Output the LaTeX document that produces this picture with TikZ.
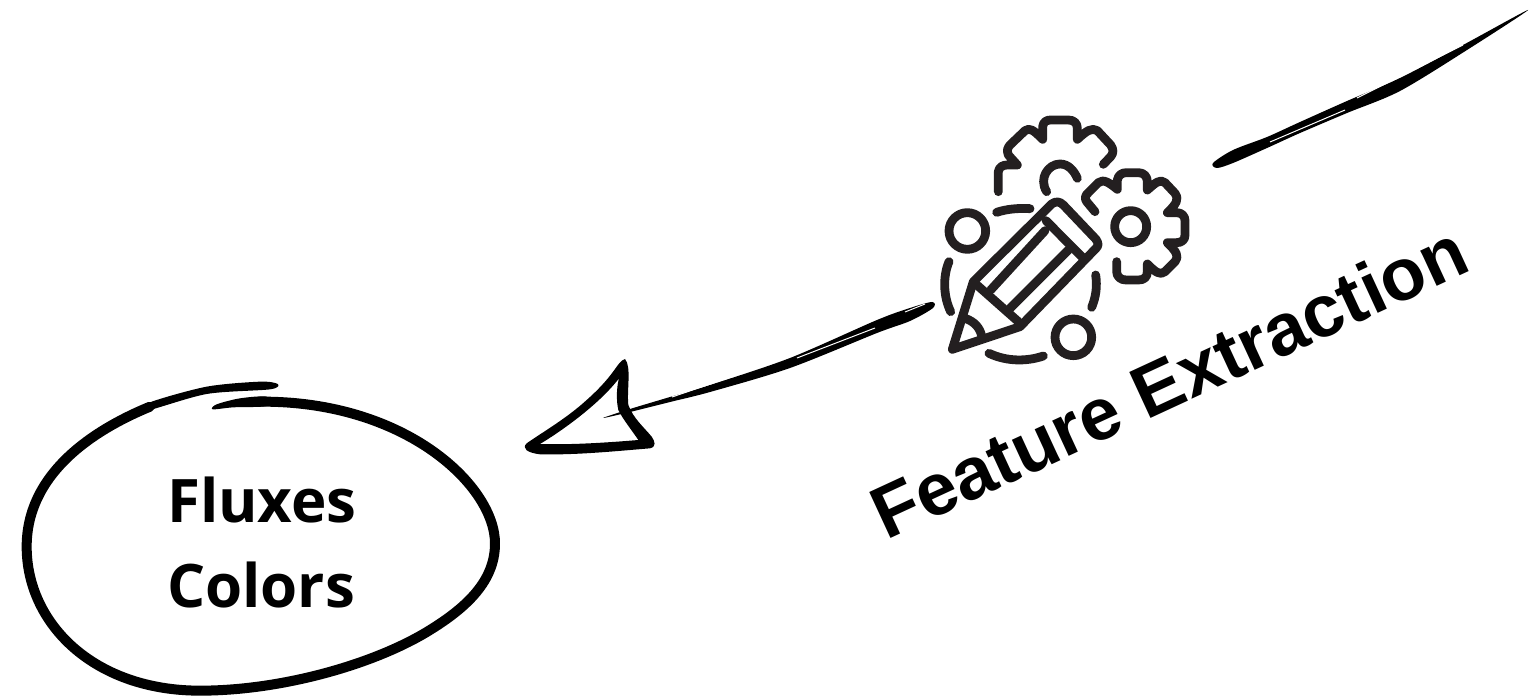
\documentclass[tikz,border=0pt]{standalone}
\usepackage{fontspec}
\setmainfont{Open Sans}
\newfontfamily\labelfont{Liberation Sans}
\definecolor{iconink}{HTML}{231F20}
\tikzset{
  ink/.style={line width=4.4pt,draw=iconink,line cap=round,line join=round},
  brush/.style={fill=black,draw=none},
  sliver/.style={draw=white,line width=0.5pt},
  circletext/.style={font=\fontsize{30}{36}\selectfont\bfseries,text=black,inner sep=0pt,anchor=base},
  bigtext/.style={font=\labelfont\fontsize{36.8}{40}\selectfont\bfseries,text=black,inner sep=0pt,anchor=base}
}
\begin{document}
\begin{tikzpicture}[x=0.5pt,y=-0.5pt]
\useasboundingbox (0,0) rectangle (1530,699);
% top-right stroke
\fill[brush] plot[smooth cycle,tension=0.5] coordinates {(1213,163) (1233,150) (1267,137) (1300,122) (1347,101) (1400,78) (1463,45) (1528,10) (1467,50) (1400,91) (1347,113) (1300,133) (1267,148) (1233,163) (1217,168)};
\draw[sliver] (1357,98) -- (1463,45);
\draw[sliver] (1270,142) -- (1345,110);
% arrow shaft
\fill[brush] plot[smooth cycle,tension=0.5] coordinates {(932,302) (910,308) (877,320) (790,358) (710,385) (670,397) (630,409) (603,418) (630,412) (670,402) (710,392) (790,368) (877,333) (910,321) (933,308)};
\draw[sliver] (672,397) -- (775,362);
\draw[sliver] (925,304) -- (905,312);
\draw[sliver] (797,358) -- (875,328);
% arrow head
\begin{scope}[shift={(510,290)},scale=1/3]
\fill[brush,even odd rule]
  (345,207) .. controls (320,215) and (320,250) .. (230,330)
  .. controls (170,385) and (100,425) .. (50,460)
  .. controls (35,475) and (50,488) .. (90,493)
  .. controls (200,495) and (300,485) .. (420,475)
  .. controls (440,470) and (435,455) .. (425,440)
  .. controls (400,410) and (370,385) .. (355,345)
  .. controls (350,300) and (365,230) .. (345,207) -- cycle
  (327,265) .. controls (320,290) and (318,330) .. (325,360)
  .. controls (340,390) and (365,420) .. (385,450)
  .. controls (290,458) and (180,465) .. (90,462)
  .. controls (160,420) and (270,340) .. (327,265) -- cycle;
\end{scope}
% ellipse
\begin{scope}[shift={(0,370)},scale=1/3]
\draw[line width=5pt,line join=round,line cap=round] (450,110) .. controls (280,180) and (80,310) .. (80,530)
  .. controls (80,760) and (280,962) .. (600,962)
  .. controls (850,962) and (1130,880) .. (1290,780)
  .. controls (1420,700) and (1485,620) .. (1485,520)
  .. controls (1485,350) and (1220,92) .. (780,95);
\fill[brush] plot[smooth cycle,tension=0.5] coordinates {(833,42) (780,35) (620,50) (450,97) (440,122) (620,72) (810,58)};
\fill[brush] plot[smooth cycle,tension=0.5] coordinates {(638,118) (650,103) (720,85) (800,80) (800,108) (700,112)};
\end{scope}
\node[circletext] (fluxes) at (262,523) {Fluxes};
\node[circletext] (colors) at (261,607) {Colors};
\node[bigtext,rotate=24.8] (feature) at (1180,405) {Feature Extraction};
% icon
\begin{scope}[shift={(920,100)},scale=1/3]
% pencil
\draw[ink] (97,748) -- (160,545) -- (395,312) .. controls (408,302) and (420,305) .. (430,315) -- (528,418) .. controls (536,430) and (536,437) .. (528,445) -- (300,680) -- cycle;
\draw[ink] (165,550) -- (295,665);
\draw[ink] (378,362) -- (490,475);
\draw[ink] (212,570) -- (375,392);
\draw[ink] (270,625) -- (445,450);
\draw[ink] (135,655) .. controls (165,665) and (180,685) .. (185,708);
% big gear
\draw[ink] (235,275) -- (235,215) .. controls (237,200) and (250,195) .. (262,195) -- (292,195) -- (265,165) .. controls (260,150) and (262,145) .. (270,135) -- (315,92) .. controls (330,82) and (340,90) .. (368,118) -- (368,80) .. controls (370,65) and (380,60) .. (392,60) -- (445,60) .. controls (462,60) and (472,70) .. (472,85) -- (472,118) .. controls (500,92) and (515,82) .. (532,92) -- (572,135) .. controls (582,150) and (580,160) .. (572,170) -- (550,193);
\draw[ink] (380,275) .. controls (355,235) and (385,192) .. (420,192) .. controls (445,192) and (462,212) .. (472,235);
% small gear
\draw[ink] (525,335) -- (500,305) .. controls (492,295) and (497,285) .. (505,278) -- (535,248) .. controls (550,235) and (570,250) .. (592,268) -- (592,240) .. controls (595,225) and (605,218) .. (620,218) -- (655,218) .. controls (672,218) and (682,230) .. (682,245) -- (682,270) .. controls (705,250) and (720,235) .. (735,248) -- (765,280) .. controls (778,295) and (770,312) .. (742,338) -- (770,338) .. controls (785,338) and (795,348) .. (795,362) -- (795,405) .. controls (795,420) and (785,428) .. (770,428) -- (742,428) .. controls (770,455) and (778,470) .. (765,485) -- (735,515) .. controls (720,528) and (705,515) .. (682,492) -- (682,515) .. controls (682,532) and (672,540) .. (655,540) -- (618,540) .. controls (602,540) and (590,530) .. (590,515) -- (590,485);
\draw[ink] (632,380) circle (48);
% satellites
\draw[ink] (142,393) circle (55);
\draw[ink] (460,712) circle (55);
\draw[ink] (230,337) .. controls (260,327) and (295,324) .. (330,326);
\draw[ink] (87,485) .. controls (68,530) and (70,590) .. (92,635);
\draw[ink] (527,525) .. controls (532,560) and (528,590) .. (515,622);
\draw[ink] (207,760) .. controls (260,785) and (320,785) .. (370,768);
\end{scope}
\end{tikzpicture}
\end{document}
